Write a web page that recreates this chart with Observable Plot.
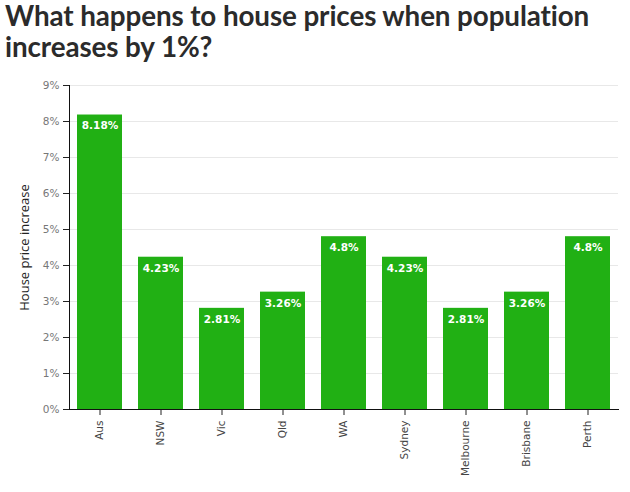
<!DOCTYPE html>
<html>
<head>
<meta charset="utf-8">
<script src="https://cdn.jsdelivr.net/npm/d3@7"></script>
<script src="https://cdn.jsdelivr.net/npm/@observablehq/plot@0.6"></script>
<style>
  body { margin: 0; background: #fff; font-family: Lato, "Open Sans", sans-serif; }
  h1 { margin: 0; padding: 0 0 0 5px; font-size: 27.8px; line-height: 31px; font-weight: 700; color: #2b2b2b; height: 67px; font-family: Lato, sans-serif; letter-spacing: -0.1px; }
  #chart svg { display: block; }
</style>
</head>
<body>
<h1>What happens to house prices when population increases by 1%?</h1>
<div id="chart"></div>
<script>
const regions = ["Aus", "NSW", "Vic", "Qld", "WA", "Sydney", "Melbourne", "Brisbane", "Perth"];
const increases = [8.18, 4.23, 2.81, 3.26, 4.8, 4.23, 2.81, 3.26, 4.8];
const labels = ["8.18%", "4.23%", "2.81%", "3.26%", "4.8%", "4.23%", "2.81%", "3.26%", "4.8%"];
const yTicks = [0, 1, 2, 3, 4, 5, 6, 7, 8, 9];

const data = regions.map((r, i) => ({region: r, value: increases[i], label: labels[i]}));

const chart = Plot.plot({
  width: 630,
  height: 425,
  marginTop: 18,
  marginBottom: 83,
  marginLeft: 69,
  marginRight: 12,
  style: {fontFamily: "'DejaVu Sans', sans-serif", fontSize: "10.5px"},
  x: {domain: regions, paddingInner: 0.262, paddingOuter: 0.131, label: null},
  y: {domain: [0, 9], label: null},
  marks: [
    Plot.gridY(yTicks, {stroke: "#e8e8e8", strokeOpacity: 1}),
    Plot.barY(data, {x: "region", y: "value", fill: "#21b014"}),
    Plot.text(data, {x: "region", y: "value", text: "label", dy: 11, fill: "white", fontWeight: "bold", fontSize: 10.5}),
    Plot.axisY(yTicks, {tickFormat: d => d + "%", tickSize: 6, tickPadding: 4, color: "#777", stroke: "#222", strokeOpacity: 1, label: null}),
    Plot.axisX({tickRotate: -90, tickSize: 6, tickPadding: 5, color: "#444", stroke: "#222", strokeOpacity: 1, label: null}),
    Plot.frame({anchor: "left", stroke: "#111"}),
    Plot.frame({anchor: "bottom", stroke: "#111"}),
    Plot.text(["House price increase"], {frameAnchor: "left", textAnchor: "middle", dx: -45, rotate: -90, fontSize: 13, fill: "#222", fontFamily: "'Open Sans', sans-serif"})
  ]
});
document.getElementById("chart").appendChild(chart);
</script>
</body>
</html>
